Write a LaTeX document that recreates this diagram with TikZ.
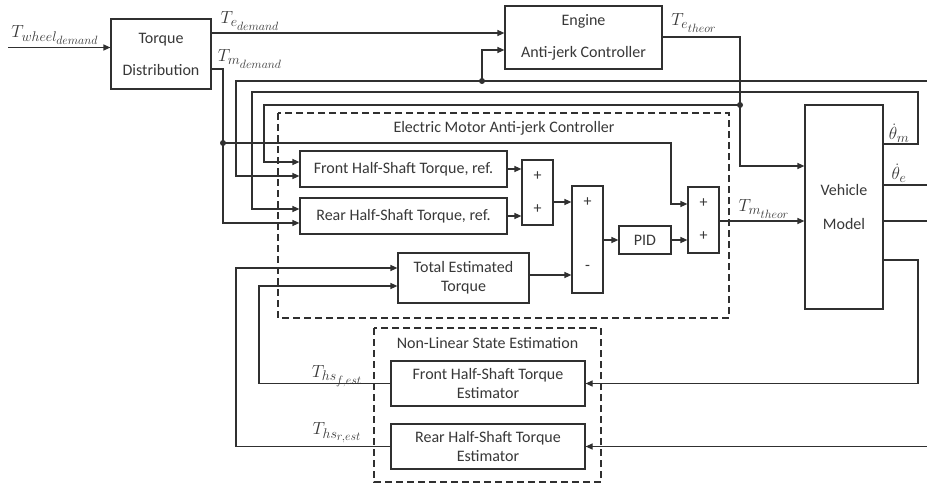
\RequirePackage{fix-cm}
\documentclass[tikz,border=0pt]{standalone}
\usepackage{fontspec}
\setmainfont{Carlito}
\usetikzlibrary{arrows.meta,calc}
\DeclareMathSizes{16}{17.5}{14}{12}
\definecolor{ln}{HTML}{303030}
\definecolor{tx}{HTML}{383838}
\newcommand\dgfs{\fontsize{16}{19}\selectfont}
\newcommand\dgfsw{\fontsize{16}{32}\selectfont}
\begin{document}
\begin{tikzpicture}[x=1pt,y=-1pt,
  wire/.style={line width=1.2pt, draw=ln},
  arr/.style={wire,-{Triangle[length=7pt,width=6pt]}},
  blk/.style={draw=ln,line width=1.2pt,rectangle,inner sep=0pt,text=tx,font=\dgfs,align=center},
  wblk/.style={blk,font=\dgfsw},
  txt/.style={inner sep=0pt,text=tx,font=\dgfs},
  lbl/.style={inner sep=0pt,text=tx,font=\dgfs},
  dashbox/.style={draw=ln,line width=1.2pt,dash pattern=on 7pt off 4pt},
  dot/.style={fill=ln}
]
\fill[white] (0,0) rectangle (927,487);
\useasboundingbox (0,0) rectangle (927,487);

% dashed groups
\draw[dashbox] (278,113) rectangle (729,318);
\draw[dashbox] (374,328) rectangle (601,482);
\node[txt] (temajc) at (504,128) {Electric Motor Anti-jerk Controller};
\node[txt] (tnlse) at (487.5,343) {Non-Linear State Estimation};

% blocks
\node[wblk,minimum width=100pt,minimum height=70pt] (td) at (161,54) {Torque\\Distribution};
\node[wblk,minimum width=157pt,minimum height=63pt] (eng) at (583.5,37.5) {Engine\\Anti-jerk Controller};
\node[blk,minimum width=207pt,minimum height=36pt] (front) at (403.5,169) {Front Half-Shaft Torque, ref.};
\node[blk,minimum width=207pt,minimum height=36pt] (rear) at (403.5,216) {Rear Half-Shaft Torque, ref.};
\node[blk,minimum width=31pt,minimum height=65pt] (sumA) at (537.5,192.5) {};
\node[blk,minimum width=31pt,minimum height=107pt] (sumB) at (587.5,239.5) {};
\node[blk,minimum width=52pt,minimum height=28pt] (pid) at (645,240) {PID};
\node[blk,minimum width=31pt,minimum height=66pt] (sumC) at (703.5,220) {};
\node[blk,minimum width=131pt,minimum height=50pt] (tet) at (463.5,278) {Total Estimated\\Torque};
\node[wblk,font=\fontsize{16}{34}\selectfont,minimum width=78pt,minimum height=204pt] (vm) at (844,207) {Vehicle\\Model};
\node[blk,minimum width=194pt,minimum height=45pt] (fe) at (488,383.5) {Front Half-Shaft Torque\\Estimator};
\node[blk,minimum width=194pt,minimum height=45pt] (re) at (488,446.5) {Rear Half-Shaft Torque\\Estimator};

% signs
\node[txt] (sa1) at (537.5,176) {+};
\node[txt] (sa2) at (537.5,209) {+};
\node[txt] (sb1) at (587.5,202) {+};
\node[txt] (sb2) at (587.5,268) {-};
\node[txt] (sc1) at (703.5,203) {+};
\node[txt] (sc2) at (703.5,236) {+};

% coordinates
\coordinate (in) at (8,47.5);
\coordinate (jm) at (223,143);
\coordinate (r81) at (927,81);
\coordinate (j81) at (482,81);
\coordinate (j105) at (740,105);
\coordinate (rthe) at (927,185);
\coordinate (r221) at (927,221);
\coordinate (r446) at (927,446.5);

% wires
\draw[arr] (in) -- (in -| td.west);
\draw[arr] (td.east |- 0,33) -- (eng.west |- 0,33);
\draw[arr] (td.east |- 0,69) -| (jm) |- (rear.west |- 0,223);
\draw[arr] (jm) -- (671,143) -- (671,204) -- (sumC.west |- 0,204);
\draw[arr] (r81) -- (236,81) |- (front.west |- 0,176);
\draw[arr] (j81) |- (eng.west |- 0,50);
\draw[arr] (vm.east |- 0,144) -| (918,92) -- (252,92) |- (rear.west |- 0,209);
\draw[arr] (eng.east |- 0,37) -| (740,166) -- (vm.west |- 0,166);
\draw[arr] (j105) -- (264,105) |- (front.west |- 0,162);
\draw[arr] (front.east) -- (sumA.west |- front.east);
\draw[arr] (rear.east) -- (sumA.west |- rear.east);
\draw[arr] (sumA.east |- 0,202) -- (sumB.west |- 0,202);
\draw[arr] (sumB.east |- pid.west) -- (pid.west);
\draw[arr] (pid.east) -- (sumC.west |- pid.east);
\draw[arr] (sumC.east |- 0,221) -- (vm.west |- 0,221);
\draw[arr] (tet.east |- 0,275) -- (sumB.west |- 0,275);
\draw[wire] (vm.east |- rthe) -- (rthe);
\draw[wire] (vm.east |- r221) -- (r221);
\draw[arr] (vm.east |- 0,260) -| (918,383.5) -- (fe.east);
\draw[arr] (r446) -- (re.east);
\draw[arr] (fe.west) -| (259,286) -- (tet.west |- 0,286);
\draw[arr] (re.west) -| (236,268) -- (tet.west |- 0,268);

\fill[dot] (jm) circle (3pt);
\fill[dot] (j81) circle (3pt);
\fill[dot] (j105) circle (3pt);

% labels
\node[lbl] (lwd) at (55,35) {$T_{wheel_{demand}}$};
\node[lbl] (led) at (250,21) {$T_{e_{demand}}$};
\node[lbl] (lmd) at (250,59) {$T_{m_{demand}}$};
\node[lbl] (let) at (694,23) {$T_{e_{theor}}$};
\node[lbl] (lmt) at (764,209) {$T_{m_{theor}}$};
\node[lbl] (lthm) at (899,133) {$\dot\theta_m$};
\node[lbl] (lthe) at (899,173) {$\dot\theta_e$};
\node[lbl] (lhf) at (337,376) {$T_{hs_{f,est}}$};
\node[lbl] (lhr) at (337,433) {$T_{hs_{r,est}}$};
\end{tikzpicture}
\end{document}
